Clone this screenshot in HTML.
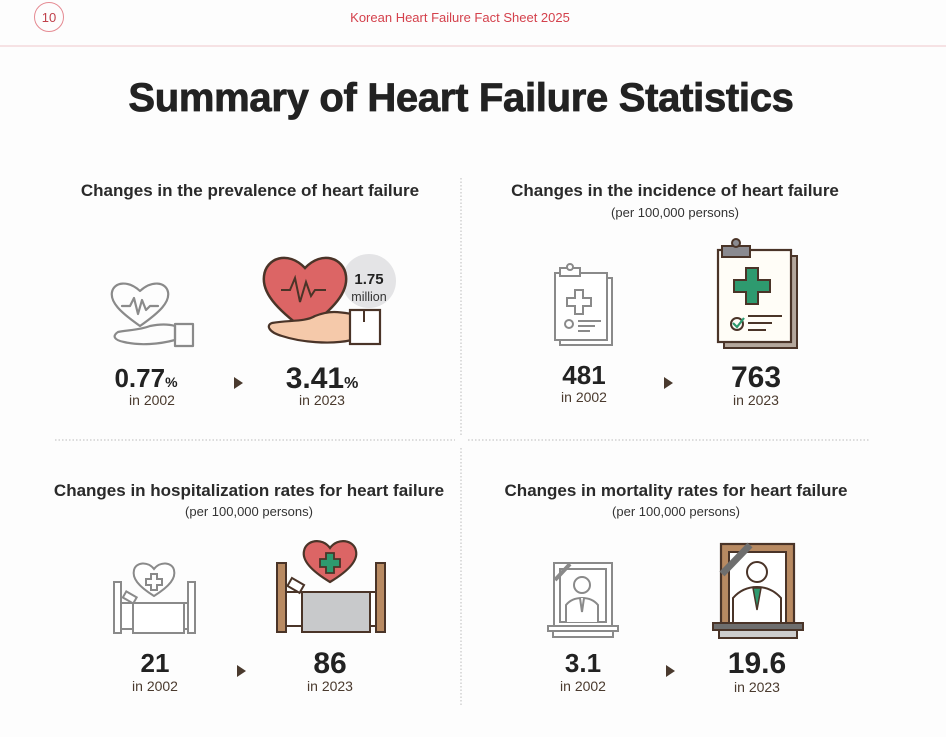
<!DOCTYPE html>
<html><head><meta charset="utf-8"><style>
html,body{margin:0;padding:0;background:#fdfdfd;}
svg{display:block;font-family:"Liberation Sans",sans-serif;}
</style></head><body>
<svg width="946" height="737" viewBox="0 0 946 737" xmlns="http://www.w3.org/2000/svg">
<rect width="946" height="737" fill="#fdfdfd"/>
<!-- header -->
<circle cx="49" cy="17" r="14.5" fill="none" stroke="#e58a92" stroke-width="1"/>
<text x="49" y="22" font-size="13" fill="#c0404a" text-anchor="middle">10</text>
<text x="460" y="22" font-size="13" fill="#d4414c" text-anchor="middle">Korean Heart Failure Fact Sheet 2025</text>
<line x1="0" y1="46" x2="946" y2="46" stroke="#f0c8cc" stroke-width="1"/>
<text x="461" y="111" font-size="40" font-weight="bold" fill="#222" stroke="#222" stroke-width="0.8" text-anchor="middle" letter-spacing="-0.3">Summary of Heart Failure Statistics</text>

<!-- dividers -->
<g stroke="#bbb" stroke-width="1" stroke-dasharray="1.5,2">
<line x1="461" y1="178" x2="461" y2="436"/>
<line x1="461" y1="448" x2="461" y2="705"/>
<line x1="55" y1="440" x2="455" y2="440"/>
<line x1="468" y1="440" x2="870" y2="440"/>
</g>

<!-- section titles -->
<g font-weight="bold" font-size="17" fill="#2a2a2a" text-anchor="middle">
<text x="250" y="196">Changes in the prevalence of heart failure</text>
<text x="675" y="196">Changes in the incidence of heart failure</text>
<text x="249" y="496">Changes in hospitalization rates for heart failure</text>
<text x="676" y="496">Changes in mortality rates for heart failure</text>
</g>
<g font-size="13" fill="#333" text-anchor="middle">
<text x="675" y="217">(per 100,000 persons)</text>
<text x="249" y="516">(per 100,000 persons)</text>
<text x="676" y="516">(per 100,000 persons)</text>
</g>

<!-- numbers -->
<g font-weight="bold" fill="#222" text-anchor="middle">
<text x="146" y="387" font-size="26">0.77<tspan font-size="14">%</tspan></text>
<text x="322" y="388" font-size="30">3.41<tspan font-size="16">%</tspan></text>
<text x="584" y="384" font-size="26">481</text>
<text x="756" y="387" font-size="30">763</text>
<text x="155" y="672" font-size="26">21</text>
<text x="330" y="673" font-size="30">86</text>
<text x="583" y="672" font-size="26">3.1</text>
<text x="757" y="673" font-size="30">19.6</text>
</g>
<g font-size="14" fill="#4a3a2e" text-anchor="middle">
<text x="152" y="405">in 2002</text>
<text x="322" y="405">in 2023</text>
<text x="584" y="402">in 2002</text>
<text x="756" y="405">in 2023</text>
<text x="155" y="691">in 2002</text>
<text x="330" y="691">in 2023</text>
<text x="583" y="691">in 2002</text>
<text x="757" y="692">in 2023</text>
</g>
<!-- arrows -->
<g fill="#4a3a2e">
<polygon points="234,377 243,383 234,389"/>
<polygon points="664,377 673,383 664,389"/>
<polygon points="237,665 246,671 237,677"/>
<polygon points="666,665 675,671 666,677"/>
</g>

<!-- icon 1: grey heart hand -->
<g fill="none" stroke="#8a8a8a" stroke-width="2.2" stroke-linejoin="round" stroke-linecap="round">
<path d="M140,326 C120,312 110,302 112,292 C114,282 128,280 140,291 C152,280 166,282 168,292 C170,302 160,312 140,326 Z"/>
<polyline points="122,306 130,306 134,298 138,314 142,300 146,310 150,306 158,306"/>
<path d="M118,332 C128,330 140,330 150,326 C160,324 168,324 175,326 L175,340 C160,344 140,346 124,342 C114,340 112,336 118,332 Z"/>
<rect x="175" y="324" width="18" height="22"/>
</g>

<!-- icon 2: red heart hand -->
<circle cx="369" cy="281" r="27" fill="#e4e4e6"/>
<path d="M305,330 C275,308 262,292 264,276 C266,258 288,250 305,268 C322,250 344,258 346,276 C348,292 335,308 305,330 Z" fill="#dc6565" stroke="#4a3428" stroke-width="2.5"/>
<polyline points="281,290 290,290 295,278 300,302 306,282 311,296 315,290 326,290" fill="none" stroke="#4a3428" stroke-width="2"/>
<path d="M272,323 C290,320 305,322 315,316 C330,310 340,312 352,314 L352,340 C330,345 300,342 282,336 C268,332 266,325 272,323 Z" fill="#f5c9aa" stroke="#4a3428" stroke-width="2.2"/>
<rect x="350" y="310" width="30" height="34" fill="#fff" stroke="#4a3428" stroke-width="2.2"/>
<line x1="364" y1="310" x2="364" y2="322" stroke="#4a3428" stroke-width="2"/>
<text x="369" y="284" font-size="15" font-weight="bold" fill="#222" text-anchor="middle">1.75</text>
<text x="369" y="301" font-size="12.5" fill="#333" text-anchor="middle">million</text>

<!-- icon 3: grey clipboard -->
<g fill="#fff" stroke="#8a8a8a" stroke-width="2">
<rect x="560" y="278" width="52" height="67"/>
<rect x="555" y="273" width="52" height="67"/>
<rect x="560" y="268" width="20" height="8"/>
<circle cx="570" cy="267" r="3"/>
<path d="M575,290 h8 v8 h8 v8 h-8 v8 h-8 v-8 h-8 v-8 h8 z"/>
<circle cx="569" cy="324" r="4"/>
<line x1="578" y1="321" x2="601" y2="321"/><line x1="578" y1="326" x2="595" y2="326"/><line x1="578" y1="331" x2="590" y2="331"/>
</g>

<!-- icon 4: colored clipboard -->
<rect x="724" y="256" width="73" height="92" fill="#b4a79c" stroke="#4a3428" stroke-width="2"/>
<rect x="718" y="250" width="73" height="92" fill="#fffdf7" stroke="#4a3428" stroke-width="2.2"/>
<rect x="722" y="246" width="28" height="11" fill="#8a8a90" stroke="#4a3428" stroke-width="2"/>
<circle cx="736" cy="243" r="4" fill="#8a8a90" stroke="#4a3428" stroke-width="2"/>
<path d="M746,268 h12 v12 h12 v12 h-12 v12 h-12 v-12 h-12 v-12 h12 z" fill="#2e9a6f" stroke="#4a3428" stroke-width="2"/>
<circle cx="737" cy="324" r="6" fill="none" stroke="#4a3428" stroke-width="2"/>
<polyline points="733,323 737,327 744,318" fill="none" stroke="#2e9a6f" stroke-width="2.2"/>
<g stroke="#4a3428" stroke-width="2"><line x1="748" y1="316" x2="782" y2="316"/><line x1="748" y1="323" x2="772" y2="323"/><line x1="748" y1="330" x2="766" y2="330"/></g>

<!-- icon 5: grey bed -->
<g fill="#fff" stroke="#8a8a8a" stroke-width="2">
<path d="M154,596 C138,586 132,578 134,570 C136,562 148,561 154,569 C160,561 172,562 174,570 C176,578 170,586 154,596 Z"/>
<path d="M151,574 h6 v5 h5 v6 h-5 v5 h-6 v-5 h-5 v-6 h5 z"/>
<rect x="114" y="582" width="7" height="51"/>
<rect x="188" y="582" width="7" height="51"/>
<rect x="121" y="603" width="67" height="26"/>
<rect x="133" y="603" width="51" height="30"/>
<rect x="124" y="594" width="12" height="7" transform="rotate(30 130 597)"/>
</g>

<!-- icon 6: colored bed -->
<rect x="277" y="563" width="9" height="69" fill="#b88a62" stroke="#4a3428" stroke-width="2"/>
<rect x="376" y="563" width="9" height="69" fill="#b88a62" stroke="#4a3428" stroke-width="2"/>
<rect x="286" y="592" width="90" height="34" fill="#fff" stroke="#4a3428" stroke-width="2"/>
<rect x="302" y="592" width="68" height="40" fill="#c8c9cb" stroke="#4a3428" stroke-width="2"/>
<rect x="289" y="581" width="14" height="9" fill="#fff" stroke="#4a3428" stroke-width="2" transform="rotate(30 296 585)"/>
<path d="M330,582 C310,570 302,560 304,551 C306,540 322,537 330,548 C338,537 354,540 356,551 C358,560 350,570 330,582 Z" fill="#dc6565" stroke="#4a3428" stroke-width="2.2"/>
<path d="M326,553 h8 v6 h6 v8 h-6 v6 h-8 v-6 h-6 v-8 h6 z" fill="#2e9a6f" stroke="#4a3428" stroke-width="1.8"/>

<!-- icon 7: grey frame -->
<g fill="#fff" stroke="#8a8a8a" stroke-width="2">
<rect x="554" y="563" width="58" height="63"/>
<rect x="560" y="569" width="46" height="53"/>
<circle cx="582" cy="585" r="8"/>
<path d="M566,622 V605 C570,600 576,598 582,598 C588,598 594,600 598,605 V622"/>
<path d="M580,598 L582,612 L584,598"/>
<rect x="548" y="626" width="70" height="5"/>
<rect x="553" y="631" width="60" height="6"/>
<line x1="555" y1="580" x2="570" y2="564" stroke-width="4"/>
</g>

<!-- icon 8: brown frame -->
<rect x="721" y="544" width="73" height="80" fill="#b88a62" stroke="#4a3428" stroke-width="2.2"/>
<rect x="729" y="552" width="57" height="72" fill="#fff" stroke="#4a3428" stroke-width="2"/>
<line x1="722" y1="574" x2="750" y2="545" stroke="#6e6e6e" stroke-width="7"/>
<circle cx="757" cy="572" r="10" fill="#fff" stroke="#4a3428" stroke-width="2"/>
<path d="M733,624 V598 C740,590 748,587 757,587 C766,587 774,590 781,598 V624" fill="#fff" stroke="#4a3428" stroke-width="2"/>
<path d="M753,588 L757,610 L761,588 Z" fill="#2e9a6f" stroke="#4a3428" stroke-width="1.5"/>
<rect x="713" y="623" width="90" height="7" fill="#6e6e6e" stroke="#4a3428" stroke-width="2"/>
<rect x="719" y="630" width="78" height="8" fill="#ccc" stroke="#4a3428" stroke-width="2"/>
</svg>
</body></html>
